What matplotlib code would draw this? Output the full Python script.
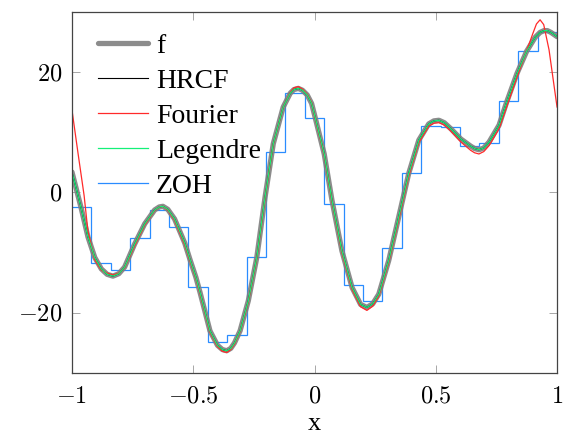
import numpy as np
import matplotlib
matplotlib.use("Agg")
import matplotlib.pyplot as plt

plt.rcParams['font.family'] = ['Liberation Serif', 'DejaVu Serif']
plt.rcParams['mathtext.fontset'] = 'cm'

# f
f_x = [-1.0, -0.962, -0.934, -0.906, -0.879, -0.855, -0.831, -0.807, -0.783, -0.742,
       -0.700, -0.659, -0.640, -0.625, -0.605, -0.577, -0.535, -0.513, -0.489, -0.472,
       -0.431, -0.400, -0.380, -0.362, -0.345, -0.330, -0.307, -0.273, -0.238, -0.204,
       -0.170, -0.129, -0.100, -0.085, -0.067, -0.050, -0.030, -0.012, 0.0, 0.040,
       0.072, 0.113, 0.155, 0.190, 0.216, 0.240, 0.265, 0.306, 0.347, 0.388,
       0.430, 0.471, 0.492, 0.513, 0.535, 0.562, 0.603, 0.644, 0.660, 0.678,
       0.698, 0.720, 0.761, 0.792, 0.835, 0.875, 0.910, 0.930, 0.946, 0.960,
       0.975, 1.0]
f_y = [3.4, -2.6, -7.4, -10.8, -12.7, -13.6, -13.9, -13.5, -12.4, -8.6,
       -5.2, -2.9, -2.4, -2.3, -2.8, -4.4, -8.4, -11.2, -14.1, -16.6,
       -23.0, -25.4, -26.1, -26.3, -25.9, -25.0, -23.0, -18.0, -10.8, -0.8,
       8.1, 14.2, 16.5, 17.1, 17.3, 17.0, 16.2, 14.8, 12.9, 6.4,
       -1.3, -9.7, -15.8, -18.6, -19.1, -18.5, -16.9, -11.3, -4.1, 3.1,
       8.7, 11.4, 11.9, 12.0, 11.6, 10.6, 8.9, 7.7, 7.3, 7.1,
       7.4, 8.4, 11.2, 15.0, 19.8, 23.5, 25.8, 26.6, 26.9, 26.9,
       26.6, 25.9]

hrcf_y = list(f_y)
legendre_y = list(f_y)

# Fourier: Gibbs ringing at both ends, slightly deeper troughs
fourier_x = [-1.0, -0.975, -0.950, -0.934, -0.906, -0.879, -0.855, -0.831, -0.807, -0.783,
             -0.742, -0.700, -0.659, -0.640, -0.625, -0.605, -0.577, -0.535, -0.513, -0.489,
             -0.472, -0.431, -0.400, -0.380, -0.362, -0.345, -0.330, -0.307, -0.273, -0.238,
             -0.204, -0.170, -0.129, -0.100, -0.085, -0.067, -0.050, -0.030, -0.012, 0.0,
             0.040, 0.072, 0.113, 0.155, 0.190, 0.216, 0.240, 0.265, 0.306, 0.347,
             0.388, 0.430, 0.471, 0.492, 0.513, 0.535, 0.562, 0.603, 0.644, 0.660,
             0.678, 0.698, 0.720, 0.761, 0.792, 0.835, 0.875, 0.900, 0.915, 0.930,
             0.945, 0.967, 0.985, 1.0]
fourier_y = [13.7, 6.5, -0.5, -6.5, -11.2, -12.9, -13.4, -13.7, -13.4, -12.5,
             -8.9, -5.4, -3.0, -2.4, -2.3, -2.9, -4.6, -8.7, -11.4, -14.3,
             -16.8, -23.2, -25.6, -26.4, -26.6, -26.1, -25.2, -23.1, -18.2, -11.0,
             -1.0, 8.0, 14.2, 16.6, 17.4, 17.6, 17.2, 16.3, 14.9, 12.8,
             6.2, -1.5, -10.0, -16.1, -19.0, -19.6, -18.9, -17.2, -11.6, -4.5,
             2.7, 8.3, 11.0, 11.5, 11.6, 11.2, 10.2, 8.4, 7.0, 6.6,
             6.4, 6.8, 7.8, 10.6, 14.2, 19.2, 23.6, 26.4, 28.0, 28.7,
             27.9, 23.7, 18.5, 14.2]

# ZOH: 25 steps
zoh_edges = np.linspace(-1, 1, 26)
zoh_y = [-2.4, -11.8, -12.9, -7.6, -2.9, -5.7, -15.7, -24.8, -23.7, -10.7,
         6.7, 16.6, 12.4, -1.9, -15.4, -18.1, -9.3, 3.3, 11.0, 10.8,
         7.7, 8.3, 15.2, 23.5, 26.6]

xticks = [-1, -0.5, 0, 0.5, 1]
xtick_labels = [r'$-1$', r'$-0.5$', r'$0$', r'$0.5$', r'$1$']
yticks = [-20, 0, 20]
ytick_labels = [r'$-20$', r'$0$', r'$20$']

fig = plt.figure(figsize=(5.69, 4.43), dpi=100)
ax = fig.add_axes([0.1265, 0.158, 0.8525, 0.815])

ax.plot(f_x, f_y, color='#808080', lw=3.8, alpha=0.9, label='f', solid_capstyle='round')
ax.plot(f_x, hrcf_y, color='black', lw=0.8, label='HRCF')
ax.plot(fourier_x, fourier_y, color='#ff2a2a', lw=0.9, label='Fourier')
ax.plot(f_x, legendre_y, color='#14f078', lw=0.9, label='Legendre')
ax.stairs(zoh_y, zoh_edges, color='#2a8cff', lw=0.9, baseline=None, label='ZOH')

ax.set_xlim(-1, 1)
ax.set_ylim(-30, 30)
ax.set_xticks(xticks)
ax.set_xticklabels(xtick_labels, fontsize=17.5)
ax.set_yticks(yticks)
ax.set_yticklabels(ytick_labels, fontsize=17.5)
ax.tick_params(direction='in', length=6, width=0.6, color='#999999',
               top=True, right=True, pad=7)
ax.tick_params(axis='x', pad=10)
for s in ax.spines.values():
    s.set_color('#444444')
    s.set_linewidth(0.9)
ax.set_xlabel('x', fontsize=19, labelpad=4)

ax.legend(loc='upper left', bbox_to_anchor=(0.054, 0.94), frameon=False,
          fontsize=20, handlelength=1.78, labelspacing=0.34, handletextpad=0.3,
          borderpad=0, borderaxespad=0)

fig.savefig('out.png', dpi=100)
